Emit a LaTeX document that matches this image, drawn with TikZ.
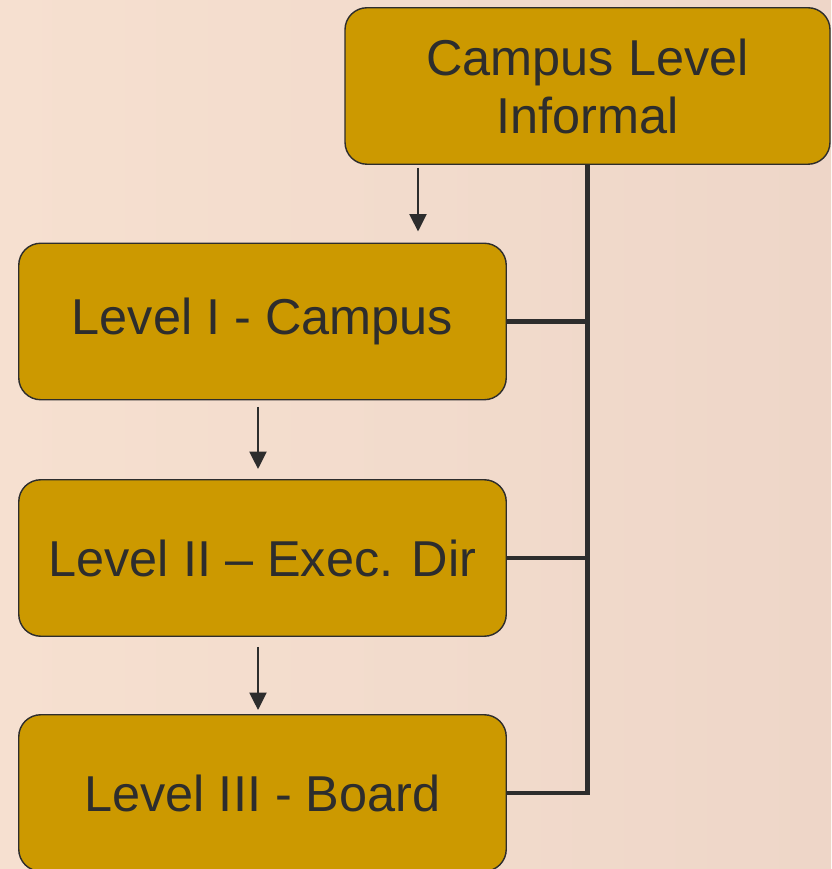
\documentclass[tikz,border=0pt]{standalone}
\usepackage{fontspec}
\setmainfont{Liberation Sans}
\usetikzlibrary{arrows.meta}
\definecolor{gold}{RGB}{204,153,0}
\definecolor{ink}{RGB}{45,45,45}
\definecolor{peach}{RGB}{246,224,208}
\definecolor{peachdark}{RGB}{238,214,200}
\begin{document}
\begin{tikzpicture}[
    levelbox/.style ={rectangle, rounded corners=0.44cm, draw=ink, line width=0.8pt, fill=gold,
                      text=ink, minimum width=9.75cm, minimum height=3.13cm, align=center,
                      font=\fontsize{28.7}{33}\selectfont},
    trunk/.style ={ink, line width=2.8pt},
    arr/.style ={ink, line width=1.1pt, -{Triangle[length=0.35cm,width=0.34cm]}}]
   \shade[left color=peach, right color=peachdark] (0,0) rectangle (16.62,17.38);
   \useasboundingbox (0,0) rectangle (16.62,17.38);

   \node[levelbox] (campus) [minimum width=9.7cm] at (11.75,15.66) {Campus Level\\Informal};
   \node[levelbox] (lvlone)   at (5.25,10.95) {Level I - Campus};
   \node[levelbox] (lvltwo)   at (5.25,6.22)  {Level II – Exec. Dir};
   \node[levelbox] (lvlthree) at (5.25,1.52)  {Level III - Board};

   \coordinate (a1) at (8.36,14.02);
   \coordinate (a2) at (5.16,9.24);
   \coordinate (a3) at (5.16,4.44);

   \draw[trunk] (campus.south) |- (lvlthree.east);
   \draw[trunk] (lvlone.east) -- (lvlone.east -| campus.south);
   \draw[trunk] (lvltwo.east) -- (lvltwo.east -| campus.south);

   \draw[arr] (a1) -- ([yshift=0.22cm]lvlone.north -| a1);
   \draw[arr] (a2) -- ([yshift=0.2cm]lvltwo.north -| a2);
   \draw[arr] (a3) -- ([yshift=0.08cm]lvlthree.north -| a3);
\end{tikzpicture}
\end{document}
